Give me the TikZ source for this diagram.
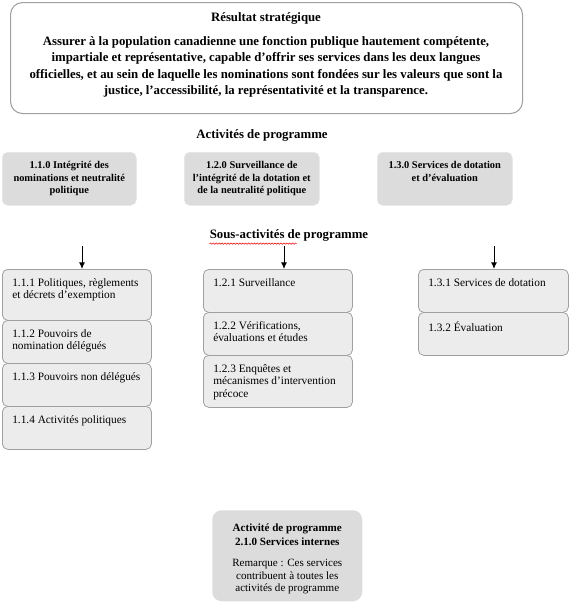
\documentclass[tikz,border=0pt]{standalone}
\usepackage{fontspec}
\setmainfont{Liberation Serif}
\usetikzlibrary{arrows.meta,decorations.pathmorphing}

\definecolor{boxgray}{RGB}{220,220,220}
\definecolor{subgray}{RGB}{236,236,236}
\definecolor{linegray}{RGB}{160,160,160}

\begin{document}
\begin{tikzpicture}[x=0.75pt,y=0.75pt,yscale=-1,xscale=1,
  resbox/.style={draw=linegray,line width=0.8pt,fill=white,rounded corners=9pt,inner sep=0pt,anchor=north west},
  progbox/.style={draw=boxgray!70!white,fill=boxgray,rounded corners=4pt,inner sep=0pt,anchor=north west},
  subbox/.style={draw=linegray,line width=0.6pt,fill=subgray,rounded corners=4pt,inner sep=0pt,anchor=north west,minimum width=111.75pt},
  progtext/.style={align=center,font=\fontsize{7.8}{9.4}\selectfont\bfseries,inner sep=0pt},
  subtext/.style={align=left,anchor=north west,font=\fontsize{8.5}{9.3}\selectfont,inner sep=0pt},
  headtext/.style={font=\fontsize{9.6}{12.3}\selectfont\bfseries,inner sep=0pt}
  ]
\useasboundingbox (0,0) rectangle (580,603);

%Strategic outcome
\node [resbox,minimum width=384pt,minimum height=83.25pt] (res) at (10,2) {};
\node [headtext] (restitle) at (266,18) {Résultat stratégique};
\node [headtext,align=center] (resbody) at (266,67) {Assurer à la population canadienne une fonction publique hautement compétente,\\
impartiale et représentative, capable d’offrir ses services dans les deux langues\\
officielles, et au sein de laquelle les nominations sont fondées sur les valeurs que sont la\\
justice, l’accessibilité, la représentativité et la transparence.};

% Text Node
\node [headtext] (acttitle) at (262,135) {Activités de programme};

%Program activities
\node [progbox,minimum width=100.5pt,minimum height=39.75pt] (p110) at (2,152) {};
\node [progtext] (t110) at (p110.center) {1.1.0 Intégrité des\\ nominations et neutralité\\ politique};
\node [progbox,minimum width=101.25pt,minimum height=39.75pt] (p120) at (184,152) {};
\node [progtext] (t120) at (p120.center) {1.2.0 Surveillance de\\ l’intégrité de la dotation et\\ de la neutralité politique};
\node [progbox,minimum width=101.25pt,minimum height=39.75pt] (p130) at (377,152) {};
\node [progtext,anchor=north] (t130) at ([yshift=7pt]p130.north) {1.3.0 Services de dotation\\ et d’évaluation};

% Text Node
\node [headtext] (subtitle) at (289,235) {Sous-activités de programme};
\draw [red,line width=0.4pt,decorate,decoration={snake,amplitude=0.5pt,segment length=2.2pt}] (subtitle.south west) ++(0,2.5) coordinate (wave) -- ++(87,0);

%Sub-activities, column 1
\node [subbox,minimum height=38.25pt] (b111) at (2,269) {};
\node [subbox,minimum height=32.25pt] (b112) at (2,320) {};
\node [subbox,minimum height=32.25pt] (b113) at (2,363) {};
\node [subbox,minimum height=32.25pt] (b114) at (2,406) {};
\node [subtext] (t111) at ([xshift=7.5pt,yshift=7pt]b111.north west) {1.1.1 Politiques, règlements\\ et décrets d’exemption};
\node [subtext] (t112) at ([xshift=7.5pt,yshift=7pt]b112.north west) {1.1.2 Pouvoirs de\\ nomination délégués};
\node [subtext] (t113) at ([xshift=7.5pt,yshift=7pt]b113.north west) {1.1.3 Pouvoirs non délégués};
\node [subtext] (t114) at ([xshift=7.5pt,yshift=7pt]b114.north west) {1.1.4 Activités politiques};

%Sub-activities, column 2
\node [subbox,minimum height=32.25pt] (b121) at (203,269) {};
\node [subbox,minimum height=32.25pt] (b122) at (203,312) {};
\node [subbox,minimum height=39pt] (b123) at (203,355) {};
\node [subtext] (t121) at ([xshift=7.5pt,yshift=7pt]b121.north west) {1.2.1 Surveillance};
\node [subtext] (t122) at ([xshift=7.5pt,yshift=7pt]b122.north west) {1.2.2 Vérifications,\\ évaluations et études};
\node [subtext] (t123) at ([xshift=7.5pt,yshift=7pt]b123.north west) {1.2.3 Enquêtes et\\ mécanismes d’intervention\\ précoce};

%Sub-activities, column 3
\node [subbox,minimum width=112.5pt,minimum height=32.25pt] (b131) at (418,269) {};
\node [subbox,minimum width=112.5pt,minimum height=32.25pt] (b132) at (418,312) {};
\node [subtext] (t131) at ([xshift=7.5pt,yshift=7pt]b131.north west) {1.3.1 Services de dotation};
\node [subtext] (t132) at ([xshift=7.5pt,yshift=7pt]b132.north west) {1.3.2 Évaluation};

%Arrows
\coordinate (a1) at (82,246);
\coordinate (a2) at (284,246);
\coordinate (a3) at (494,246);
\draw [-{Latex[length=5pt,width=4.5pt]},line width=0.75pt] (a1) -- (a1 |- b111.north);
\draw [-{Latex[length=5pt,width=4.5pt]},line width=0.75pt] (a2) -- (a2 |- b121.north);
\draw [-{Latex[length=5pt,width=4.5pt]},line width=0.75pt] (a3) -- (a3 |- b131.north);

%Internal services
\node [progbox,draw=none,rounded corners=7pt,minimum width=112.5pt,minimum height=68.25pt] (p210) at (212,510) {};
\node [progtext,font=\fontsize{8.3}{10.5}\selectfont\bfseries,anchor=north] (t210) at ([yshift=10.5pt]p210.north) {Activité de programme\\ 2.1.0 Services internes};
\node [progtext,font=\fontsize{8.3}{9.4}\selectfont,anchor=north] (r210) at ([yshift=9.5pt]t210.south) {Remarque : Ces services\\ contribuent à toutes les\\ activités de programme};

\end{tikzpicture}
\end{document}
